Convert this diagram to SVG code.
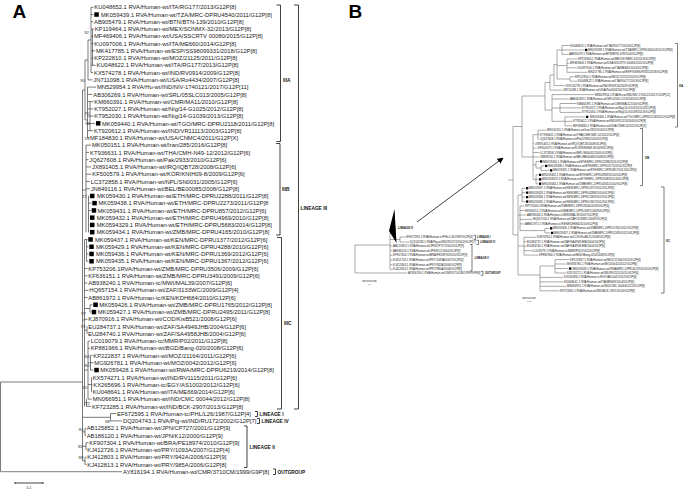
<svg xmlns="http://www.w3.org/2000/svg" width="685" height="490" viewBox="0 0 685 490">
<defs>
<style>
text{font-family:"Liberation Sans",Arial,Helvetica,sans-serif;fill:#222}
.t{font-size:5.85px}
.tb{font-size:2.9px}
.bs{font-size:4.3px;fill:#333;text-anchor:end}
.lab{font-size:4.8px;font-weight:bold;fill:#111}
.labb{font-size:2.7px;font-weight:bold;fill:#111}
.br{fill:none;stroke:#444;stroke-width:0.7}
.brb{fill:none;stroke:#555;stroke-width:0.5}
.bk{fill:none;stroke:#111;stroke-width:0.8}
.bkb{fill:none;stroke:#111;stroke-width:0.55}
.sq{fill:#000}
.panel{font-size:19px;font-weight:bold;fill:#000}
</style>
<marker id="ah" viewBox="0 0 10 10" refX="9" refY="5" markerWidth="6" markerHeight="6" orient="auto" markerUnits="userSpaceOnUse"><path d="M0,0 L10,5 L0,10 z" fill="#000"/></marker>
</defs>
<rect width="685" height="490" fill="#fff"/>
<text class="panel" x="12.5" y="17.5">A</text>
<text class="panel" x="348.5" y="17.5">B</text>

<g id="connectors-A">
<path class="br" d="M0.5,382V471.7M0.5,382H82.5M0.5,471.7H122M82.5,90V460.8"/>
<path class="br" d="M91,7.3V72.6M92.5,29.1V65.3M91,7.3H93.5M91,14.6H93.5M91,21.8H93.2M91,29.1H94M91,36.3H93.2M91,43.6H93.5M91,50.8H95.2M91,58.1H93.5M91,65.3H95.7M91,72.6H93.2M88,40H91M88,40V79.9M88,79.9H92.5M85,60H88M85,60V120M82.5,90H85M85,120H87.5M87.5,87.1V137.9M87.5,87.1H96.2M87.5,94.4H92.5M90,101.6V130.7M87.5,101.6H93.5M87.5,108.9H93.5M87.5,116.1H93.5M87.5,123.4H95.2M87.5,130.7H93.2M87.5,137.9H89.2"/>
<path class="br" d="M82.5,190H86M86,145.2V232.2M86,145.2H91.2M86,152.4H89.2M86,159.7H88.5M86,166.9H91.2M86,174.2H91.5M86,181.4H89.9M86,188.7H89.9M88.5,196V232.2M88.5,196H89.2M88.5,203.2H91.5M88.5,210.5H90.9M88.5,217.7H89.2M88.5,225H89.2M88.5,232.2H89.2"/>
<path class="br" d="M82.5,320H84.5M84.5,239.5V406.4M86.5,239.5V261.3M84.5,239.5H87.5M86.5,246.8H88.5M86.5,254H88.5M86.5,261.3H88.5M84.5,268.5H87.5M84.5,275.8H87.5M84.5,283H87.5M84.5,290.3H88.5M84.5,297.5H87.5M84.5,308.5H90M90,304.8V312.1M90,304.8H92.5M90,312.1H90.9M84.5,319.3H87.5M84.5,330.2H87M87,326.6V333.8M87,326.6H87.5M87,333.8H87.2M84.5,370H88M88,341.1V399.1M88,341.1H89.9M88,348.3H89.9M88,362.8H90.5M90.5,355.6V370.1M90.5,355.6H92.5M90.5,362.8H93.5M90.5,370.1H93.5M91.5,377.4V391.9M88,384.6H91.5M91.5,377.4H91.9M91.5,384.6H92.5M91.5,391.9H91.9M88,399.1H91.9M84.5,402.8H86.5M86.5,399.1V406.4M86.5,406.4H91.2"/>
<path class="br" d="M82.5,417.3H110.5M110.5,413.6V420.9M110.5,413.6H116.2M110.5,420.9H122.2M82.5,431.8H85M85,428.2V435.4M85,428.2H85.9M85,435.4H85.9M82.5,446.3H86M86,442.7V449.9M86,442.7H88.5M86,449.9H86.5M82.5,460.8H85M85,457.2V464.4M85,457.2H86.5M85,464.4H86.5"/>
</g>

<g id="bootstrap-A">
<text class="bs" x="89" y="33.8">92</text>
<text class="bs" x="85" y="82">90</text>
<text class="bs" x="89.3" y="115">70</text>
<text class="bs" x="90" y="125">90</text>
<text class="bs" x="89.3" y="140">59</text>
<text class="bs" x="86.7" y="198">72</text>
<text class="bs" x="86" y="314.5">97</text>
<text class="bs" x="85.3" y="327.8">79</text>
<text class="bs" x="89.3" y="358">84</text>
<text class="bs" x="89.3" y="367">80</text>
<text class="bs" x="87.3" y="389">65</text>
<text class="bs" x="90" y="405">72</text>
<text class="bs" x="110" y="423">88</text>
<text class="bs" x="83.3" y="431">94</text>
<text class="bs" x="82.7" y="448">85</text>
<text class="bs" x="83.3" y="459">88</text>
</g>

<g id="taxa-A">
<g id="A01"><text class="t" x="94.3" y="9.4">KU048652.1 RVA/Human-wt/ITA/RG177/2013/G12P[8]</text></g>
<g id="A02"><rect class="sq" x="94.3" y="12.3" width="4.5" height="4.5"/><text class="t" x="101" y="16.7">MK059439.1 RVA/Human-wt/TZA/MRC-DPRU4540/2011/G12P[8]</text></g>
<g id="A03"><text class="t" x="94" y="23.9">AB905479.1 RVA/Human-wt/BTN/BTN-139/2010/G12P[8]</text></g>
<g id="A04"><text class="t" x="94.7" y="31.2">KP119464.1 RVA/Human-wt/MEX/SONMX-32/2013/G12P[8]</text></g>
<g id="A05"><text class="t" x="94" y="38.4">MF469406.1 RVA/Human-wt/USA/SSCRTV 00080/2015/G12P[8]</text></g>
<g id="A06"><text class="t" x="94.3" y="45.7">KU097006.1 RVA/Human-wt/ITA/ME660/2014/G12P[8]</text></g>
<g id="A07"><text class="t" x="96" y="52.9">MK417785.1 RVA/Human-wt/ESP/SS98099331/2018/G12P[8]</text></g>
<g id="A08"><text class="t" x="94.3" y="60.2">KP222810.1 RVA/Human-wt/MOZ/21125/2011/G12P[8]</text></g>
<g id="A09"><text class="t" x="96.5" y="67.4">KU048622.1 RVA/Human-wt/ITA/RG177/2013/G12P[8]</text></g>
<g id="A10"><text class="t" x="94" y="74.7">KX574278.1 RVA/Human-wt/IND/RV0914/2009/G12P[8]</text></g>
<g id="A11"><text class="t" x="93.3" y="82">JN711098.1 RVA/Human-wt/USA/Ro4434/2007/G12P[8]</text></g>
<g id="A12"><text class="t" x="97" y="89.2">MN529954.1 RVA/Hu-wt/IND/NIV-1740121/2017/G12P[11]</text></g>
<g id="A13"><text class="t" x="93.3" y="96.5">AB306269.1 RVA/Human-wt/SRL/05SLC013/2005/G12P[8]</text></g>
<g id="A14"><text class="t" x="94.3" y="103.7">KM660391.1 RVA/Human-wt/CMR/MA11/2010/G12P[8]</text></g>
<g id="A15"><text class="t" x="94.3" y="111">KT952027.1 RVA/Human-wt/Nig/14-G1025/2012/G12P[8]</text></g>
<g id="A16"><text class="t" x="94.3" y="118.2">KT952030.1 RVA/Human-wt/Nig/14-G1039/2013/G12P[8]</text></g>
<g id="A17"><rect class="sq" x="96" y="121.1" width="4.5" height="4.5"/><text class="t" x="102" y="125.5">MK059440.1 RVA/Human-wt/TGO/MRC-DPRU2118/2011/G12P[8]</text></g>
<g id="A18"><text class="t" x="94" y="132.8">KT920612.1 RVA/Human-wt/IND/VR11113/2003/G12P[8]</text></g>
<g id="A19"><text class="t" x="90" y="140">MF184830.1 RVA/Human-wt/USA/CNMC4/2011/G12P[X]</text></g>
<g id="A20"><text class="t" x="92" y="147.3">MK050151.1 RVA/Human-wt/Iran/285/2016/G12P[8]</text></g>
<g id="A21"><text class="t" x="90" y="154.5">KT936631.1 RVA/Human-wt/THA/CMH-N49-12/2012/G12P[6]</text></g>
<g id="A22"><text class="t" x="89.3" y="161.8">JQ627608.1 RVA/Human-wt/Pak/2933/2010/G12P[6]</text></g>
<g id="A23"><text class="t" x="92" y="169">JX891405.1 RVA/Human-wt/IRQ/IQBT28/2008/G12P[6]</text></g>
<g id="A24"><text class="t" x="92.3" y="176.3">KF500579.1 RVA/Human-wt/KOR/KNIH09-8/2009/G12P[6]</text></g>
<g id="A25"><text class="t" x="90.7" y="183.5">LC372858.1 RVA/Human-wt/NPL/SN0031/2005/G12P[6]</text></g>
<g id="A26"><text class="t" x="90.7" y="190.8">JN849116.1 RVA/Human-wt/BEL/BE00085/2008/G12P[8]</text></g>
<g id="A27"><rect class="sq" x="90" y="193.7" width="4.5" height="4.5"/><text class="t" x="97" y="198.1">MK059430.1 RVA/Human-wt/ETH/MRC-DPRU2288/2011/G12P[8]</text></g>
<g id="A28"><rect class="sq" x="92.3" y="200.9" width="4.5" height="4.5"/><text class="t" x="98.5" y="205.3">MK059438.1 RVA/Human-wt/ETH/MRC-DPRU2273/2011/G12P[8</text></g>
<g id="A29"><rect class="sq" x="91.7" y="208.2" width="4.5" height="4.5"/><text class="t" x="97.5" y="212.6">MK059431.1 RVA/Human-wt/ETH/MRC-DPRU857/2012/G12P[6]</text></g>
<g id="A30"><rect class="sq" x="90" y="215.4" width="4.5" height="4.5"/><text class="t" x="96.7" y="219.8">MK059432.1 RVA/Human-wt/ETH/MRC-DPRU4969/2010/G12P[8]</text></g>
<g id="A31"><rect class="sq" x="90" y="222.7" width="4.5" height="4.5"/><text class="t" x="96.7" y="227.1">MK0594329.1 RVA/Human-wt/ETH/MRC-DPRU5683/2014/G12P[8]</text></g>
<g id="A32"><rect class="sq" x="90" y="229.9" width="4.5" height="4.5"/><text class="t" x="96.7" y="234.3">MK059434.1 RVA/Human-wt/ZMB/MRC-DPRU4165/2010/G12P[8]</text></g>
<g id="A33"><rect class="sq" x="88.3" y="237.2" width="4.5" height="4.5"/><text class="t" x="95" y="241.6">MK059437.1 RVA/Human-wt/KEN/MRC-DPRU1377/2012/G12P[6]</text></g>
<g id="A34"><rect class="sq" x="89.3" y="244.5" width="4.5" height="4.5"/><text class="t" x="96" y="248.9">MK059429.1 RVA/Human-wt/KEN/MRC-DPRU4288/2010/G12P[6]</text></g>
<g id="A35"><rect class="sq" x="89.3" y="251.7" width="4.5" height="4.5"/><text class="t" x="96" y="256.1">MK059436.1 RVA/Human-wt/KEN/MRC-DPRU1369/2012/G12P[6]</text></g>
<g id="A36"><rect class="sq" x="89.3" y="259" width="4.5" height="4.5"/><text class="t" x="96" y="263.4">MK059435.1 RVA/Human-wt/KEN/MRC-DPRU1367/2012/G12P[6]</text></g>
<g id="A37"><text class="t" x="88.3" y="270.6">KP753206.1RVA/Human-wt/ZMB/MRC-DPRU3506/2009/G12P[6]</text></g>
<g id="A38"><text class="t" x="88.3" y="277.9">KF636151.1 RVA/Human-wt/ZMB/MRC-DPRU3491/2009/G12P[6]</text></g>
<g id="A39"><text class="t" x="88.3" y="285.1">AB938240.1 RVA/Human-tc/MWI/MAL39/2007/G12P[6]</text></g>
<g id="A40"><text class="t" x="89.3" y="292.4">HQ657154.1 RVA/Human-wt/ZAF/3133WC/2009/G12P[4]</text></g>
<g id="A41"><text class="t" x="88.3" y="299.6">AB861972.1 RVA/Human-tc/KEN/KDH684/2010/G12P[6]</text></g>
<g id="A42"><rect class="sq" x="93.3" y="302.5" width="4.5" height="4.5"/><text class="t" x="99.3" y="306.9">MK059426.1 RVA/Human-wt/ZMB/MRC-DPRU1765/2012/G12P[8]</text></g>
<g id="A43"><rect class="sq" x="91.7" y="309.8" width="4.5" height="4.5"/><text class="t" x="97.7" y="314.2">MK059427.1 RVA/Human-wt/ZMB/MRC-DPRU2495/2011/G12P[8]</text></g>
<g id="A44"><text class="t" x="88.3" y="321.4">KJ870916.1 RVA/Human-wt/COD/KisB521/2008/G12P[6]</text></g>
<g id="A45"><text class="t" x="88.3" y="328.7">EU284737.1 RVA/Human-wt/ZAF/SA4949JHB/2004/G12P[6]</text></g>
<g id="A46"><text class="t" x="88" y="335.9">EU284740.1 RVA/Human-wt/ZAF/SA4958JHB/2004/G12P[6]</text></g>
<g id="A47"><text class="t" x="90.7" y="343.2">LC019079.1 RVA/Human-tc/MMR/P02/2011/G12P[8]</text></g>
<g id="A48"><text class="t" x="90.7" y="350.4">KP881966.1 RVA/Human-wt/BGD/Bang-020/2008/G12P[6]</text></g>
<g id="A49"><text class="t" x="93.3" y="357.7">KP222837.1 RVA/Human-wt/MOZ/21164/2011/G12P[6]</text></g>
<g id="A50"><text class="t" x="94.3" y="364.9">MG926781.1 RVA/Human-wt/MOZ/0042/2012/G12P[6]</text></g>
<g id="A51"><rect class="sq" x="94.3" y="367.8" width="4.5" height="4.5"/><text class="t" x="100.3" y="372.2">MK059428.1 RVA/Human-wt/RWA/MRC-DPRU6219/2014/G12P[8]</text></g>
<g id="A52"><text class="t" x="92.7" y="379.5">KX574271.1 RVA/Human-wt/IND/RV1115/2011/G12P[6]</text></g>
<g id="A53"><text class="t" x="93.3" y="386.7">KX265696.1 RVA/Human-tc/EGY/AS1002/2012/G12P[6]</text></g>
<g id="A54"><text class="t" x="92.7" y="394">KU048641.1 RVA/Human-wt/ITA/ME669/2014/G12P[6]</text></g>
<g id="A55"><text class="t" x="92.7" y="401.2">MN066951.1 RVA/Human-wt/IND/CMC 00044/2012/G12P[8]</text></g>
<g id="A56"><text class="t" x="92" y="408.5">KF723285.1 RVA/Human-wt/IND/BCK-2907/2013/G12P[8]</text></g>
<g id="A57"><text class="t" x="117" y="415.7">EF672595.1 RVA/Human-tc/PHL/L26/1987/G12P[4]</text></g>
<g id="A58"><text class="t" x="123" y="423">DQ204743.1 RVA/Pig-wt/IND/RU172/2002/G12P[7]</text></g>
<g id="A59"><text class="t" x="86.7" y="430.3">AB125852.1 RVA/Human-wt/JPN/CP727/2001/G12P[9]</text></g>
<g id="A60"><text class="t" x="86.7" y="437.5">AB186120.1 RVA/Human-wt/JPN/K12/2000/G12P[9]</text></g>
<g id="A61"><text class="t" x="89.3" y="444.8">KF907304.1 RVA/Human-wt/BRA/PE18974/2010/G12P[9]</text></g>
<g id="A62"><text class="t" x="87.3" y="452">KJ412726.1 RVA/Human-wt/PRY/1093A/2007/G12P[4]</text></g>
<g id="A63"><text class="t" x="87.3" y="459.3">KJ412803.1 RVA/Human-wt/PRY/942A/2006/G12P[9]</text></g>
<g id="A64"><text class="t" x="87.3" y="466.5">KJ412813.1 RVA/Human-wt/PRY/985A/2006/G12P[8]</text></g>
<g id="A65"><text class="t" x="123" y="473.8">AY816194.1 RVA/Human-wt/CMR/3710CM/1999/G9P[8]</text></g>
</g>

<g id="brackets-A">
<path class="bk" d="M276.5,5H280.5V141.5H276.5M276,143.5H280V235H276M277,237.5H281.5V409H277M294,5H298.5V409H294M255,411.5H257.5V416.5H255M257,418.5H259.5V423.5H257M244,426H247V467.5H244M273,469H275.5V474.5H273"/>
<text class="lab" x="283" y="82">IIIA</text>
<text class="lab" x="282" y="191">IIIB</text>
<text class="lab" x="284" y="325">IIIC</text>
<text class="lab" x="300.5" y="210">LINEAGE III</text>
<text class="lab" x="259.5" y="415.8">LINEAGE I</text>
<text class="lab" x="261.5" y="423">LINEAGE IV</text>
<text class="lab" x="249.5" y="449">LINEAGE II</text>
<text class="lab" x="277.5" y="473.8">OUTGROUP</text>
</g>
<g id="scale-A">
<path class="bk" d="M15,483H43M15,482V484M43,482V484"/>
<text x="29" y="489" style="font-size:3.6px;text-anchor:middle">0.1</text>
</g>

<g id="connectors-B-left">
<path class="brb" d="M355,245V273M355,245H390M355,273H407.3M390,233V269.3M390,239.5H400M400,237V242M400,237H406M400,242H409M390,246H392.5M390,250.7H392.5M390,255.3H392.5M390,260H392.5M390,264.7H392.5M390,269.3H392.5"/>
<polygon points="389,231 394.5,209 396.5,243" fill="#000"/>
</g>
<g id="taxa-B-left">
<text class="labb" x="398" y="229">LINEAGE III</text>
<text class="tb" x="406.5" y="238">EF672595.1 RVA/Human-tc/PHL/L26/1987/G12P[4]</text>
<text class="tb" x="409.5" y="243">DQ204743.1 RVA/Pig-wt/IND/RU172/2002/G12P[7]</text>
<text class="tb" x="393" y="247">AB125852.1 RVA/Human-wt/JPN/CP727/2001/G12P[9]</text>
<text class="tb" x="393" y="251.7">AB186120.1 RVA/Human-wt/JPN/K12/2000/G12P[9]</text>
<text class="tb" x="393" y="256.3">KF907304.1 RVA/Human-wt/BRA/PE18974/2010/G12P[9]</text>
<text class="tb" x="393" y="261">KJ412726.1 RVA/Human-wt/PRY/1093A/2007/G12P[4]</text>
<text class="tb" x="393" y="265.7">KJ412803.1 RVA/Human-wt/PRY/942A/2006/G12P[9]</text>
<text class="tb" x="393" y="270.3">KJ412813.1 RVA/Human-wt/PRY/985A/2006/G12P[8]</text>
<text class="tb" x="408" y="274">AY816194.1 RVA/Human-wt/CMR/3710CM/1999/G9P[8]</text>
<path class="bkb" d="M473.5,235.3H475.5V239.5H473.5M476.5,240.3H478.5V244.5H476.5M470,244.5H472V271H470M481,271.3H483V275.3H481"/>
<text class="labb" x="477" y="238.4">LINEAGE I</text>
<text class="labb" x="480" y="243.4">LINEAGE IV</text>
<text class="labb" x="474.5" y="258.8">LINEAGE II</text>
<text class="labb" x="485" y="274.2">OUTGROUP</text>
<path class="bkb" d="M363,281H376M363,280.3V281.7M376,280.3V281.7"/>
<text x="369.5" y="285" style="font-size:2px;text-anchor:middle">0.1</text>
</g>

<g id="arrow-B">
<line x1="417" y1="222" x2="503" y2="158" stroke="#111" stroke-width="0.8" marker-end="url(#ah)"/>
</g>

<g id="connectors-B-right">
<path class="brb" d="M508,180H513M513,126.5V235M513,126.5H522M513,235H518M522,96V157M522,96H545M522,157H533"/>
<path class="brb" d="M562,45.5V54.4M562,45.5H569.4M562,50H584.4M562,54.4H568.4M567,58.9V72.3M567,58.9H577.4M567,63.3H569.4M567,67.8H577.4M567,72.3H587.4M570,76.7V81.2M570,76.7H574.4M570,81.2H577.4M557,50V79M557,50H562M557,65.6H567M557,79H570M554,64.5V85.6M554,64.5H557M554,85.6H565.4M550,75V90.1M550,75H554M550,90.1H562.4M545,82.5V110M545,82.5H550M545,110H552M552,94.6V121.3M552,94.6H594.4M552,99H569.4M560,103.5V112.4M552,108H560M560,103.5H576.4M560,107.9H581.4M560,112.4H581.4M565,116.9V125.8M552,121.3H565M565,116.9H585.4M565,121.3H572.4M565,125.8H572.4"/>
<path class="brb" d="M533,134.7V179.3M538,130.2V139.2M533,134.7H538M538,130.2H546.4M538,134.7H539.4M538,139.2H539.4M533,143.6H534.4M533,148.1H537.4M533,152.5H539.4M533,157H539.4M536,161.5V168M533,164.8H536M536,161.5H539.4M541,165.9V170.4M536,168H541M541,165.9H544.4M541,170.4H549.4M536,174.8V183.8M533,179.3H536M536,174.8H538.4M536,179.3H538.4M536,183.8H538.4"/>
<path class="brb" d="M518,195V275M522,188.2V201.6M518,195H522M522,188.2H525.4M522,192.7H525.4M522,197.1H525.4M522,201.6H525.4M520,206V230.6M518,215H520M520,206H524.4M520,210.5H524.4M520,215H526.4M520,219.4H532.4M520,223.9H524.4M520,230.6H545M545,228.4V232.8M545,228.4H549.4M545,232.8H550.4M524,237.3V255.1M518,246H524M524,237.3H536.4M524,241.7H526.4M524,246.2H526.4M524,250.7H531.4M524,255.1H538.4M540,266V290.8M518,275H540M555,259.6V273M540,266H555M555,259.6H569.4M555,264H566.4M555,268.5H568.4M555,273H566.4M540,277.4H563.4M540,281.9H563.4M540,286.3H566.4M540,290.8H559.4"/>
</g>

<g id="taxa-B-right">
<text class="tb" x="570" y="46.5">KU048652.1 RVA/Human-wt/ITA/RG177/2013/G12P[8]</text>
<rect class="sq" x="585" y="48.8" width="2.3" height="2.3"/><text class="tb" x="588" y="51">MK059439.1 RVA/Human-wt/TZA/MRC-DPRU4540/2011/G12P[8]</text>
<text class="tb" x="569" y="55.4">AB905479.1 RVA/Human-wt/BTN/BTN-139/2010/G12P[8]</text>
<text class="tb" x="578" y="59.9">KP119464.1 RVA/Human-wt/MEX/SONMX-32/2013/G12P[8]</text>
<text class="tb" x="570" y="64.3">MF469406.1 RVA/Human-wt/USA/SSCRTV 00080/2015/G12P[8]</text>
<text class="tb" x="578" y="68.8">KU097006.1 RVA/Human-wt/ITA/ME660/2014/G12P[8]</text>
<text class="tb" x="588" y="73.3">MK417785.1 RVA/Human-wt/ESP/SS98099331/2018/G12P[8]</text>
<text class="tb" x="575" y="77.7">KP222810.1 RVA/Human-wt/MOZ/21125/2011/G12P[8]</text>
<text class="tb" x="578" y="82.2">KU048622.1 RVA/Human-wt/ITA/RG177/2013/G12P[8]</text>
<text class="tb" x="566" y="86.6">KX574278.1 RVA/Human-wt/IND/RV0914/2009/G12P[8]</text>
<text class="tb" x="563" y="91.1">JN711098.1 RVA/Human-wt/USA/Ro4434/2007/G12P[8]</text>
<text class="tb" x="595" y="95.6">MN529954.1 RVA/Hu-wt/IND/NIV-1740121/2017/G12P[11]</text>
<text class="tb" x="570" y="100">AB306269.1 RVA/Human-wt/SRL/05SLC013/2005/G12P[8]</text>
<text class="tb" x="577" y="104.5">KM660391.1 RVA/Human-wt/CMR/MA11/2010/G12P[8]</text>
<text class="tb" x="582" y="108.9">KT952027.1 RVA/Human-wt/Nig/14-G1025/2012/G12P[8]</text>
<text class="tb" x="582" y="113.4">KT952030.1 RVA/Human-wt/Nig/14-G1039/2013/G12P[8]</text>
<rect class="sq" x="586" y="115.7" width="2.3" height="2.3"/><text class="tb" x="590" y="117.9">MK059440.1 RVA/Human-wt/TGO/MRC-DPRU2118/2011/G12P[8]</text>
<text class="tb" x="573" y="122.3">KT920612.1 RVA/Human-wt/IND/VR11113/2003/G12P[8]</text>
<text class="tb" x="573" y="126.8">MF184830.1 RVA/Human-wt/USA/CNMC4/2011/G12P[X]</text>
<text class="tb" x="547" y="131.2">MK050151.1 RVA/Human-wt/Iran/285/2016/G12P[8]</text>
<text class="tb" x="540" y="135.7">KT936631.1 RVA/Human-wt/THA/CMH-N49-12/2012/G12P[6]</text>
<text class="tb" x="540" y="140.2">JQ627608.1 RVA/Human-wt/Pak/2933/2010/G12P[6]</text>
<text class="tb" x="535" y="144.6">JX891405.1 RVA/Human-wt/IRQ/IQBT28/2008/G12P[6]</text>
<text class="tb" x="538" y="149.1">KF500579.1 RVA/Human-wt/KOR/KNIH09-8/2009/G12P[6]</text>
<text class="tb" x="540" y="153.5">LC372858.1 RVA/Human-wt/NPL/SN0031/2005/G12P[6]</text>
<text class="tb" x="540" y="158">JN849116.1 RVA/Human-wt/BEL/BE00085/2008/G12P[8]</text>
<rect class="sq" x="540" y="160.3" width="2.3" height="2.3"/><text class="tb" x="543" y="162.5">MK059430.1 RVA/Human-wt/ETH/MRC-DPRU2288/2011/G12P[8]</text>
<rect class="sq" x="545" y="164.8" width="2.3" height="2.3"/><text class="tb" x="548" y="166.9">MK059438.1 RVA/Human-wt/ETH/MRC-DPRU2273/2011/G12P[8</text>
<rect class="sq" x="550" y="169.2" width="2.3" height="2.3"/><text class="tb" x="553" y="171.4">MK059431.1 RVA/Human-wt/ETH/MRC-DPRU857/2012/G12P[6]</text>
<rect class="sq" x="539" y="173.7" width="2.3" height="2.3"/><text class="tb" x="542" y="175.8">MK059432.1 RVA/Human-wt/ETH/MRC-DPRU4969/2010/G12P[8]</text>
<rect class="sq" x="539" y="178.2" width="2.3" height="2.3"/><text class="tb" x="542" y="180.3">MK0594329.1 RVA/Human-wt/ETH/MRC-DPRU5683/2014/G12P[8]</text>
<rect class="sq" x="539" y="182.6" width="2.3" height="2.3"/><text class="tb" x="542" y="184.8">MK059434.1 RVA/Human-wt/ZMB/MRC-DPRU4165/2010/G12P[8]</text>
<rect class="sq" x="526" y="187.1" width="2.3" height="2.3"/><text class="tb" x="529" y="189.2">MK059437.1 RVA/Human-wt/KEN/MRC-DPRU1377/2012/G12P[6]</text>
<rect class="sq" x="526" y="191.5" width="2.3" height="2.3"/><text class="tb" x="529" y="193.7">MK059429.1 RVA/Human-wt/KEN/MRC-DPRU4288/2010/G12P[6]</text>
<rect class="sq" x="526" y="196" width="2.3" height="2.3"/><text class="tb" x="529" y="198.1">MK059436.1 RVA/Human-wt/KEN/MRC-DPRU1369/2012/G12P[6]</text>
<rect class="sq" x="526" y="200.4" width="2.3" height="2.3"/><text class="tb" x="529" y="202.6">MK059435.1 RVA/Human-wt/KEN/MRC-DPRU1367/2012/G12P[6]</text>
<text class="tb" x="525" y="207.1">KP753206.1RVA/Human-wt/ZMB/MRC-DPRU3506/2009/G12P[6]</text>
<text class="tb" x="525" y="211.5">KF636151.1 RVA/Human-wt/ZMB/MRC-DPRU3491/2009/G12P[6]</text>
<text class="tb" x="527" y="216">AB938240.1 RVA/Human-tc/MWI/MAL39/2007/G12P[6]</text>
<text class="tb" x="533" y="220.4">HQ657154.1 RVA/Human-wt/ZAF/3133WC/2009/G12P[4]</text>
<text class="tb" x="525" y="224.9">AB861972.1 RVA/Human-tc/KEN/KDH684/2010/G12P[6]</text>
<rect class="sq" x="550" y="227.2" width="2.3" height="2.3"/><text class="tb" x="553" y="229.4">MK059426.1 RVA/Human-wt/ZMB/MRC-DPRU1765/2012/G12P[8]</text>
<rect class="sq" x="551" y="231.7" width="2.3" height="2.3"/><text class="tb" x="554" y="233.8">MK059427.1 RVA/Human-wt/ZMB/MRC-DPRU2495/2011/G12P[8]</text>
<text class="tb" x="537" y="238.3">KJ870916.1 RVA/Human-wt/COD/KisB521/2008/G12P[6]</text>
<text class="tb" x="527" y="242.7">EU284737.1 RVA/Human-wt/ZAF/SA4949JHB/2004/G12P[6]</text>
<text class="tb" x="527" y="247.2">EU284740.1 RVA/Human-wt/ZAF/SA4958JHB/2004/G12P[6]</text>
<text class="tb" x="532" y="251.7">LC019079.1 RVA/Human-tc/MMR/P02/2011/G12P[8]</text>
<text class="tb" x="539" y="256.1">KP881966.1 RVA/Human-wt/BGD/Bang-020/2008/G12P[6]</text>
<text class="tb" x="570" y="260.6">KP222837.1 RVA/Human-wt/MOZ/21164/2011/G12P[6]</text>
<text class="tb" x="567" y="265">MG926781.1 RVA/Human-wt/MOZ/0042/2012/G12P[6]</text>
<rect class="sq" x="569" y="267.4" width="2.3" height="2.3"/><text class="tb" x="572.5" y="269.5">MK059428.1 RVA/Human-wt/RWA/MRC-DPRU6219/2014/G12P[8]</text>
<text class="tb" x="567" y="274">KX574271.1 RVA/Human-wt/IND/RV1115/2011/G12P[6]</text>
<text class="tb" x="564" y="278.4">KX265696.1 RVA/Human-tc/EGY/AS1002/2012/G12P[6]</text>
<text class="tb" x="564" y="282.9">KU048641.1 RVA/Human-wt/ITA/ME669/2014/G12P[6]</text>
<text class="tb" x="567" y="287.3">MN066951.1 RVA/Human-wt/IND/CMC 00044/2012/G12P[8]</text>
<text class="tb" x="560" y="291.8">KF723285.1 RVA/Human-wt/IND/BCK-2907/2013/G12P[8]</text>
</g>

<g id="brackets-B">
<path class="bkb" d="M675,43.5H677.5V127H675M640,128.5H642.5V185.5H640M661,187H664V293H661"/>
<text class="labb" x="679" y="87">IIIA</text>
<text class="labb" x="645" y="158.5">IIIB</text>
<text class="labb" x="666" y="241.5">IIIC</text>
<path class="bkb" d="M523,298H535M523,297.3V298.7M535,297.3V298.7"/>
<text x="529" y="302" style="font-size:2px;text-anchor:middle">0.01</text>
</g>
</svg>
